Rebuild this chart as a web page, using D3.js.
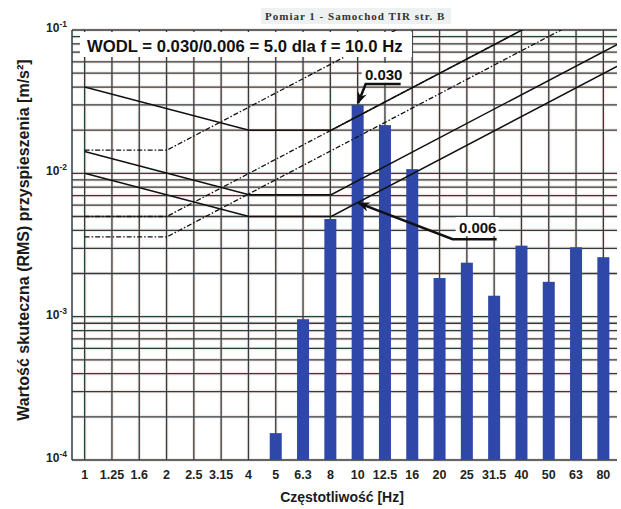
<!DOCTYPE html>
<html>
<head>
<meta charset="utf-8">
<script src="https://cdn.jsdelivr.net/npm/d3@7"></script>
<style>
body { margin: 0; background: #fff; }
text { font-family: "Liberation Sans", Arial, sans-serif; }
</style>
</head>
<body>
<svg id="chart" width="621" height="509"></svg>
<script>
// 1/3 octave bands and measured RMS values (m/s^2)
var freqs = ["1","1.25","1.6","2","2.5","3.15","4","5","6.3","8","10","12.5","16","20","25","31.5","40","50","63","80"];
var rms = [null,null,null,null,null,null,null,0.000154,0.00096,0.0048,0.030,0.0217,0.0107,0.00186,0.00238,0.0014,0.00313,0.00175,0.00305,0.0026];
var yTicks = [1e-4, 1e-3, 1e-2, 1e-1];
var yTickExp = ["-4", "-3", "-2", "-1"];

// limit curves, [frequency, value]
var solidCurves = [
	[[1,0.04],[4,0.02],[8,0.02],[100,0.25]],
	[[1,0.0142],[4,0.0071],[8,0.0071],[100,0.08875]],
	[[1,0.01],[4,0.005],[8,0.005],[100,0.0625]]
];
var dashCurves = [
	[[1,0.0145],[2,0.0145],[20,0.145]],
	[[1,0.005],[2,0.005],[100,0.25]],
	[[1,0.0036],[2,0.0036],[100,0.18]]
];

// WODL annotation
var markFreq = "10";
var markHi = 0.030;
var markLo = 0.006;

var svg = d3.select("#chart");
var pLeft = 72, pRight = 617, pTop = 30, pBottom = 460;

var x = d3.scaleBand().domain(freqs).range([71, 617]).paddingInner(0.56).paddingOuter(0.28);
var xc = function(f) { return x(f) + x.bandwidth() / 2; };
var xf = d3.scaleLog().domain([1, 10]).range([xc("1"), xc("10")]);
var y = d3.scaleLog().domain([1e-4, 1e-1]).range([pBottom, pTop]);

var defs = svg.append("defs");
defs.append("clipPath").attr("id", "plot-clip")
	.append("rect").attr("x", pLeft).attr("y", pTop).attr("width", pRight - pLeft).attr("height", pBottom - pTop);
defs.append("marker")
	.attr("id", "arrow")
	.attr("markerUnits", "userSpaceOnUse")
	.attr("viewBox", "0 0 12 10")
	.attr("refX", 11).attr("refY", 5)
	.attr("markerWidth", 12).attr("markerHeight", 10)
	.attr("orient", "auto")
	.append("path").attr("d", "M0,0 L12,5 L0,10 L4,5 Z").attr("fill", "#111");

// title
svg.append("rect").attr("x", 261).attr("y", 8).attr("width", 190).attr("height", 16).attr("fill", "#eef1f1");
svg.append("text")
	.attr("x", 265).attr("y", 20)
	.style("font-family", "'Liberation Serif', 'Times New Roman', serif")
	.style("font-size", "11px").style("font-weight", "bold")
	.style("letter-spacing", "1px")
	.attr("fill", "#333")
	.text("Pomiar 1 - Samochod TIR str. B");

// grid
var grid = svg.append("g");
var hTicks = y.ticks();
grid.selectAll(".hg").data(hTicks).enter().append("line")
	.attr("x1", pLeft).attr("x2", pRight)
	.attr("y1", function(d) { return y(d); }).attr("y2", function(d) { return y(d); })
	.attr("stroke", "#f8e6df").attr("stroke-width", 3.5);
grid.selectAll(".vg").data(freqs).enter().append("line")
	.attr("x1", xc).attr("x2", xc).attr("y1", pTop).attr("y2", pBottom)
	.attr("stroke", "#f8e6df").attr("stroke-width", 3.5);
grid.selectAll(".hl").data(hTicks).enter().append("line")
	.attr("x1", pLeft).attr("x2", pRight)
	.attr("y1", function(d) { return y(d); }).attr("y2", function(d) { return y(d); })
	.attr("stroke", "#2c3d44").attr("stroke-width", 1.3);
grid.selectAll(".vl").data(freqs).enter().append("line")
	.attr("x1", xc).attr("x2", xc).attr("y1", pTop).attr("y2", pBottom)
	.attr("stroke", "#2c3d44").attr("stroke-width", 1.3);
grid.append("line").attr("x1", pLeft).attr("x2", pLeft).attr("y1", pTop).attr("y2", pBottom)
	.attr("stroke", "#2c3d44").attr("stroke-width", 1.5);

// bars
svg.append("g").selectAll("rect")
	.data(freqs.map(function(f, i) { return {f: f, v: rms[i]}; }).filter(function(d) { return d.v; }))
	.enter().append("rect")
	.attr("x", function(d) { return x(d.f); })
	.attr("width", x.bandwidth())
	.attr("y", function(d) { return y(d.v); })
	.attr("height", function(d) { return pBottom - y(d.v); })
	.attr("fill", "#2f47a8");

// curves
var line = d3.line().x(function(d) { return xf(d[0]); }).y(function(d) { return y(d[1]); });
var curves = svg.append("g").attr("clip-path", "url(#plot-clip)");
curves.selectAll(".solid").data(solidCurves).enter().append("path")
	.attr("d", line).attr("fill", "none").attr("stroke", "#111").attr("stroke-width", 1.5);
curves.selectAll(".dash").data(dashCurves).enter().append("path")
	.attr("d", line).attr("fill", "none").attr("stroke", "#111").attr("stroke-width", 1.3)
	.attr("stroke-dasharray", "5,2,1.5,2");

// x axis labels
var xAxis = svg.append("g").attr("transform", "translate(0," + pBottom + ")")
	.call(d3.axisBottom(x).tickSize(0).tickPadding(10));
xAxis.select(".domain").remove();
xAxis.selectAll("text").style("font-size", "12.5px").style("font-weight", "bold").attr("fill", "#222");

// y axis labels
var yl = svg.append("g").selectAll("text").data(yTicks).enter().append("text")
	.attr("x", 67).attr("y", function(d) { return y(d) + 2; })
	.attr("text-anchor", "end")
	.style("font-size", "12px").style("font-weight", "bold").attr("fill", "#222");
yl.append("tspan").text("10");
yl.append("tspan").attr("dy", -5).style("font-size", "8.5px").text(function(d, i) { return yTickExp[i]; });

// axis titles
svg.append("text")
	.attr("x", 342).attr("y", 502).attr("text-anchor", "middle")
	.style("font-size", "14px").style("font-weight", "bold").attr("fill", "#1a1a1a")
	.text("Częstotliwość [Hz]");
svg.append("text")
	.attr("transform", "translate(29,240) rotate(-90)").attr("text-anchor", "middle")
	.style("font-size", "16px").style("font-weight", "bold").attr("fill", "#1a1a1a")
	.text("Wartość skuteczna (RMS) przyspieszenia [m/s²]");

// WODL box
svg.append("rect").attr("x", 80).attr("y", 32).attr("width", 332).attr("height", 25).attr("fill", "#fff");
svg.append("text")
	.attr("x", 87).attr("y", 52)
	.style("font-size", "16.7px").style("font-weight", "bold").attr("fill", "#111")
	.text("WODL = " + d3.format(".3f")(markHi) + "/" + d3.format(".3f")(markLo) + " = " +
		d3.format(".1f")(markHi / markLo) + " dla f = " + d3.format(".1f")(+markFreq) + " Hz");

// value callouts
var tx = xc(markFreq);
var hiY = y(markHi), loY = y(markLo);
svg.append("rect").attr("x", tx + 4).attr("y", hiY - 42).attr("width", 48).attr("height", 20).attr("fill", "#fff");
svg.append("text").attr("x", tx + 26).attr("y", hiY - 24.5).attr("text-anchor", "middle")
	.style("font-size", "15px").style("font-weight", "bold").attr("fill", "#111")
	.text(d3.format(".3f")(markHi));
svg.append("path")
	.attr("d", d3.line()([[tx + 43, hiY - 21], [tx + 8, hiY - 21], [tx + 0.5, hiY - 2]]))
	.attr("fill", "none").attr("stroke", "#111").attr("stroke-width", 2.5)
	.attr("marker-end", "url(#arrow)");

svg.append("rect").attr("x", tx + 98).attr("y", loY + 12).attr("width", 43).attr("height", 19).attr("fill", "#fff");
svg.append("text").attr("x", tx + 120).attr("y", loY + 28).attr("text-anchor", "middle")
	.style("font-size", "15px").style("font-weight", "bold").attr("fill", "#111")
	.text(d3.format(".3f")(markLo));
svg.append("path")
	.attr("d", d3.line()([[tx + 139, loY + 34], [tx + 95, loY + 34], [tx + 1, loY - 2]]))
	.attr("fill", "none").attr("stroke", "#111").attr("stroke-width", 2.5)
	.attr("marker-end", "url(#arrow)");
</script>
</body>
</html>
